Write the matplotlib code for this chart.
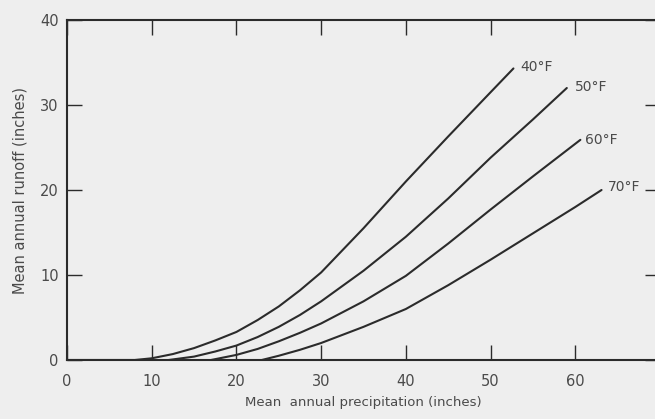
import matplotlib
matplotlib.use("Agg")
import matplotlib.pyplot as plt

# precipitation (in) vs runoff (in) for each mean annual temperature
x_40 = [0, 8, 10, 12.5, 15, 17.5, 20, 22.5, 25, 27.5, 30, 35, 40, 45, 50, 52.7]
y_40 = [0, 0, 0.2, 0.7, 1.4, 2.3, 3.3, 4.7, 6.3, 8.2, 10.3, 15.5, 21.0, 26.3, 31.5, 34.3]

x_50 = [12, 15, 17.5, 20, 22.5, 25, 27.5, 30, 35, 40, 45, 50, 55, 59.0]
y_50 = [0, 0.4, 1.0, 1.7, 2.7, 3.9, 5.3, 6.9, 10.5, 14.5, 19.0, 23.8, 28.3, 32.0]

x_60 = [17, 20, 22.5, 25, 27.5, 30, 35, 40, 45, 50, 55, 60.6]
y_60 = [0, 0.6, 1.3, 2.2, 3.2, 4.3, 6.9, 9.9, 13.7, 17.7, 21.6, 25.9]

x_70 = [23, 25, 27.5, 30, 35, 40, 45, 50, 55, 60, 63.1]
y_70 = [0, 0.5, 1.2, 2.0, 3.9, 6.0, 8.8, 11.8, 14.9, 18.0, 20.0]

labels = ["40°F", "50°F", "60°F", "70°F"]
label_pos = [(53.5, 34.5), (59.9, 32.1), (61.2, 25.9), (63.9, 20.4)]

bg = "#eeeeee"
ink = "#2b2b2b"
txt = "#4a4a4a"

fig = plt.figure(figsize=(6.55, 4.19), dpi=100, facecolor=bg)
ax = fig.add_axes([67 / 655, 1 - 360 / 419, 593 / 655, 340 / 419], facecolor=bg)

for xs, ys in [(x_40, y_40), (x_50, y_50), (x_60, y_60), (x_70, y_70)]:
	ax.plot(xs, ys, color=ink, lw=1.5, solid_capstyle="round")

for lab, (lx, ly) in zip(labels, label_pos):
	ax.text(lx, ly, lab, fontsize=10, color=txt, va="center", ha="left")

ax.set_xlim(0, 70)
ax.set_ylim(0, 40)
ax.set_xticks([0, 10, 20, 30, 40, 50, 60])
ax.set_yticks([0, 10, 20, 30, 40])
for s in ax.spines.values():
	s.set_color(ink)
	s.set_linewidth(1.5)

ax.tick_params(axis="both", direction="in", length=11, width=1.0, color=ink,
			   labelcolor=txt, labelsize=10.5)
ax.tick_params(axis="x", top=True, pad=10)
ax.tick_params(axis="y", right=True, pad=6)

ax.set_xlabel("Mean  annual precipitation (inches)", fontsize=9.5, color=txt, labelpad=5)
ax.set_ylabel("Mean annual runoff (inches)", fontsize=10.5, color=txt, labelpad=9)

fig.savefig("out.png", dpi=100, facecolor=bg)
